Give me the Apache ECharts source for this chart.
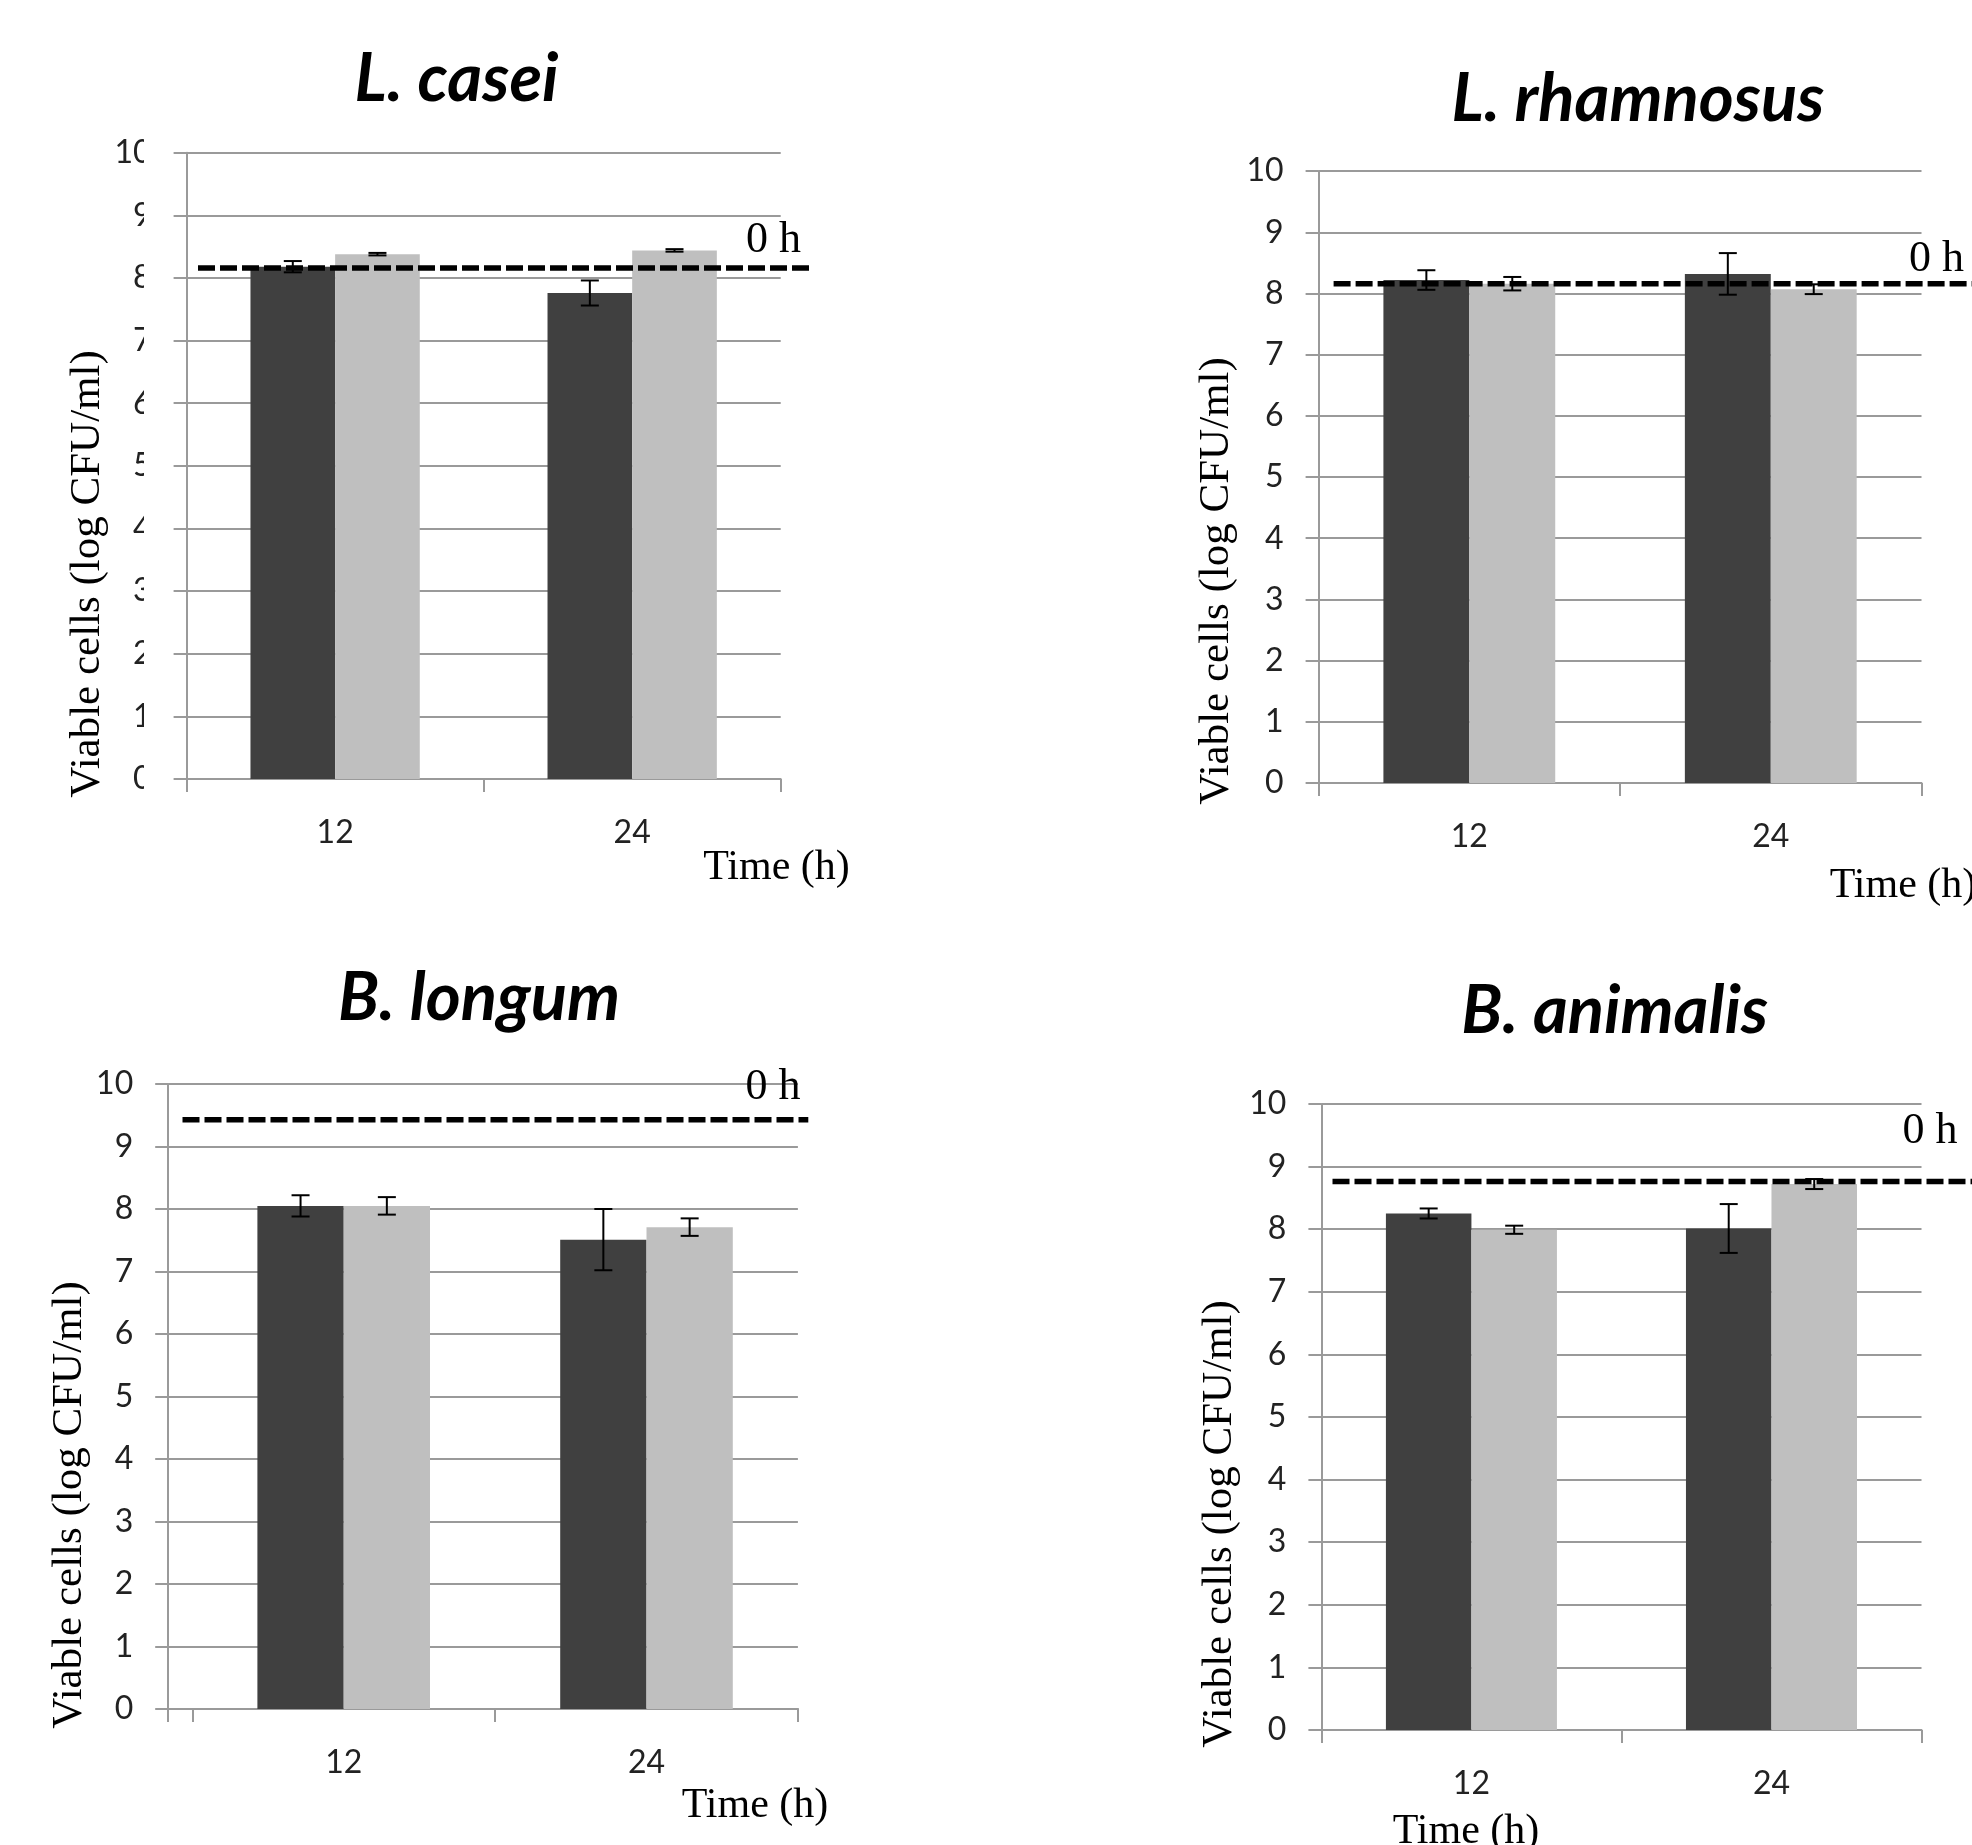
<!DOCTYPE html>
<html><head><meta charset="utf-8">
<script src="https://cdn.jsdelivr.net/npm/echarts@6/dist/echarts.min.js"></script>
<style>html,body{margin:0;padding:0;background:#fff}#c{width:1972px;height:1845px}</style>
</head><body><div id="c"></div>
<script>
// ---------- data ----------
const categories = ['12', '24'];
const panelTitles = ['L. casei', 'L. rhamnosus', 'B. longum', 'B. animalis'];
const yAxisTitle = 'Viable cells (log CFU/ml)';
const xAxisTitle = 'Time (h)';
const refLabel = '0 h';
const yMin = 0, yMax = 10, yStep = 1;

const caseiDark = [8.18, 7.76];
const caseiDarkErr = [0.09, 0.20];
const caseiLight = [8.38, 8.44];
const caseiLightErr = [0.02, 0.02];
const caseiZero = 8.16;

const rhamDark = [8.22, 8.32];
const rhamDarkErr = [0.16, 0.34];
const rhamLight = [8.16, 8.07];
const rhamLightErr = [0.11, 0.08];
const rhamZero = 8.16;

const longDark = [8.05, 7.51];
const longDarkErr = [0.17, 0.49];
const longLight = [8.05, 7.71];
const longLightErr = [0.14, 0.14];
const longZero = 9.43;

const animDark = [8.25, 8.01];
const animDarkErr = [0.08, 0.39];
const animLight = [7.99, 8.72];
const animLightErr = [0.065, 0.08];
const animZero = 8.76;

const panelData = [
  [caseiDark, caseiDarkErr, caseiLight, caseiLightErr, caseiZero],
  [rhamDark, rhamDarkErr, rhamLight, rhamLightErr, rhamZero],
  [longDark, longDarkErr, longLight, longLightErr, longZero],
  [animDark, animDarkErr, animLight, animLightErr, animZero]
];

// ---------- layout / style ----------
const layout = [
  {axisX: 186.6, left: 186.6, right: 1191.3, top: 152.7, bottom: 1066, dashL: 198, dashR: 1163,
   title: [456.5, 79.5], yTitle: [88, 574], xTitle: [776.5, 867.5], zero: [773.5, 240]},
  {axisX: 1318.6, left: 1318.6, right: 50.5, top: 171.1, bottom: 1062, dashL: 1333.6, dashR: 0,
   title: [1638, 99], yTitle: [1217, 581], xTitle: [1903, 886], zero: [1936.5, 259]},
  {axisX: 168.2, left: 192.3, right: 1174.1, top: 1084, bottom: 136, dashL: 182.5, dashR: 1163.7,
   title: [479, 998.5], yTitle: [70, 1505], xTitle: [755, 1806], zero: [773, 1087]},
  {axisX: 1321.4, left: 1321.4, right: 50.5, top: 1103.9, bottom: 115, dashL: 1332.5, dashR: 0,
   title: [1614.6, 1011], yTitle: [1219.5, 1524], xTitle: [1466, 1832], zero: [1930, 1131]}
];
const DARK = '#404040', LIGHT = '#bfbfbf', GRIDC = '#9a9a9a';
const CAT_GAP = 0.43;
const labelFont = {fontFamily: 'Lato', fontSize: 32, color: '#222'};
const serif = '"Liberation Serif", "Times New Roman", serif';

const grids = [], xAxes = [], yAxes = [], series = [], graphics = [];

function visibleY(gridIndex) {
  return {
    type: 'value', gridIndex, min: yMin, max: yMax, interval: yStep,
    axisLine: {show: true, lineStyle: {color: GRIDC, width: 2}},
    axisTick: {show: true, length: 13, lineStyle: {color: GRIDC, width: 2}},
    axisLabel: Object.assign({margin: 35}, labelFont),
    splitLine: {show: true, lineStyle: {color: GRIDC, width: 2}}
  };
}
function hiddenY(gridIndex) {
  return {type: 'value', gridIndex, min: yMin, max: yMax, interval: yStep, show: false};
}

function errRender(sign) {
  return function (params, api) {
    const j = api.value(0), m = api.value(1), e = api.value(2);
    const hi = api.coord([j, m + e]);
    const lo = api.coord([j, m - e]);
    const band = api.size([1, 0])[0];
    const bw = band * (1 - CAT_GAP) / 2;
    const x = hi[0] + sign * bw / 2;
    const cap = 9;
    const st = {stroke: '#000', lineWidth: 2};
    return {type: 'group', children: [
      {type: 'line', shape: {x1: x, y1: hi[1], x2: x, y2: lo[1]}, style: st},
      {type: 'line', shape: {x1: x - cap, y1: hi[1], x2: x + cap, y2: hi[1]}, style: st},
      {type: 'line', shape: {x1: x - cap, y1: lo[1], x2: x + cap, y2: lo[1]}, style: st}
    ]};
  };
}

layout.forEach((L, i) => {
  const [dark, darkErr, light, lightErr, zero] = panelData[i];
  const g = grids.length;
  grids.push({left: L.left, right: L.right, top: L.top, bottom: L.bottom});
  const xi = xAxes.length;
  xAxes.push({
    type: 'category', gridIndex: g, data: categories,
    axisLine: {show: true, lineStyle: {color: GRIDC, width: 2}},
    axisTick: {show: true, length: 13, lineStyle: {color: GRIDC, width: 2}},
    axisLabel: Object.assign({margin: 38}, labelFont),
    splitLine: {show: false}
  });
  const yi = yAxes.length;
  const separateAxis = Math.abs(L.axisX - L.left) > 0.5;
  yAxes.push(separateAxis ? hiddenY(g) : visibleY(g));

  if (separateAxis) {
    const gb = grids.length;
    grids.push({left: L.axisX, right: L.right, top: L.top, bottom: L.bottom});
    xAxes.push({
      type: 'value', gridIndex: gb, min: 0, max: 1, interval: 1,
      axisLine: {show: true, onZero: false, lineStyle: {color: GRIDC, width: 2}},
      axisTick: {show: true, length: 13, lineStyle: {color: GRIDC, width: 2}},
      axisLabel: {show: false}, splitLine: {show: false}
    });
    yAxes.push(visibleY(gb));
  }

  series.push({
    type: 'bar', xAxisIndex: xi, yAxisIndex: yi, data: dark, barGap: '0%',
    barCategoryGap: (CAT_GAP * 100) + '%', itemStyle: {color: DARK}, z: 2, silent: true
  });
  series.push({
    type: 'bar', xAxisIndex: xi, yAxisIndex: yi, data: light, barGap: '0%',
    barCategoryGap: (CAT_GAP * 100) + '%', itemStyle: {color: LIGHT}, z: 2, silent: true
  });
  series.push({
    type: 'custom', xAxisIndex: xi, yAxisIndex: yi, z: 3, silent: true,
    data: categories.map((c, j) => [j, dark[j], darkErr[j]]),
    encode: {x: 0, y: 1}, renderItem: errRender(-1)
  });
  series.push({
    type: 'custom', xAxisIndex: xi, yAxisIndex: yi, z: 3, silent: true,
    data: categories.map((c, j) => [j, light[j], lightErr[j]]),
    encode: {x: 0, y: 1}, renderItem: errRender(1)
  });

  // dashed 0 h reference line on its own (hidden) axes
  const gd = grids.length;
  grids.push({left: L.dashL, right: L.dashR, top: L.top, bottom: L.bottom});
  const xd = xAxes.length;
  xAxes.push({type: 'value', gridIndex: gd, min: 0, max: 1, show: false});
  const yd = yAxes.length;
  yAxes.push(hiddenY(gd));
  series.push({
    type: 'line', xAxisIndex: xd, yAxisIndex: yd, data: [[0, zero], [1, zero]],
    symbol: 'none', silent: true, z: 5,
    lineStyle: {color: '#000', width: 5.5, type: [17, 5]}
  });

  graphics.push({type: 'text', x: L.title[0], y: L.title[1], z: 10,
    style: {text: panelTitles[i], fontFamily: 'Lato', fontSize: 67, fontWeight: 'bold', fontStyle: 'italic',
            fill: '#000', align: 'center', verticalAlign: 'middle'}});
  graphics.push({type: 'text', x: L.yTitle[0], y: L.yTitle[1], rotation: Math.PI / 2, z: 10,
    style: {text: yAxisTitle, fontFamily: serif, fontSize: 43, fill: '#000', align: 'center', verticalAlign: 'middle'}});
  graphics.push({type: 'text', x: L.xTitle[0], y: L.xTitle[1], z: 10,
    style: {text: xAxisTitle, fontFamily: serif, fontSize: 42, fill: '#000', align: 'center', verticalAlign: 'middle'}});
  graphics.push({type: 'text', x: L.zero[0], y: L.zero[1], z: 10,
    style: {text: refLabel, fontFamily: serif, fontSize: 44, fill: '#000', align: 'center', verticalAlign: 'middle'}});
});

// the first panel's tick labels are cut off on their right side in the original
graphics.push({type: 'rect', shape: {x: 144, y: 130, width: 28, height: 670}, style: {fill: '#fff'}, z: 50});

const chart = echarts.init(document.getElementById('c'), null, {renderer: 'canvas'});
chart.setOption({
  animation: false,
  backgroundColor: '#fff',
  grid: grids, xAxis: xAxes, yAxis: yAxes, series: series, graphic: graphics
});
</script></body></html>
